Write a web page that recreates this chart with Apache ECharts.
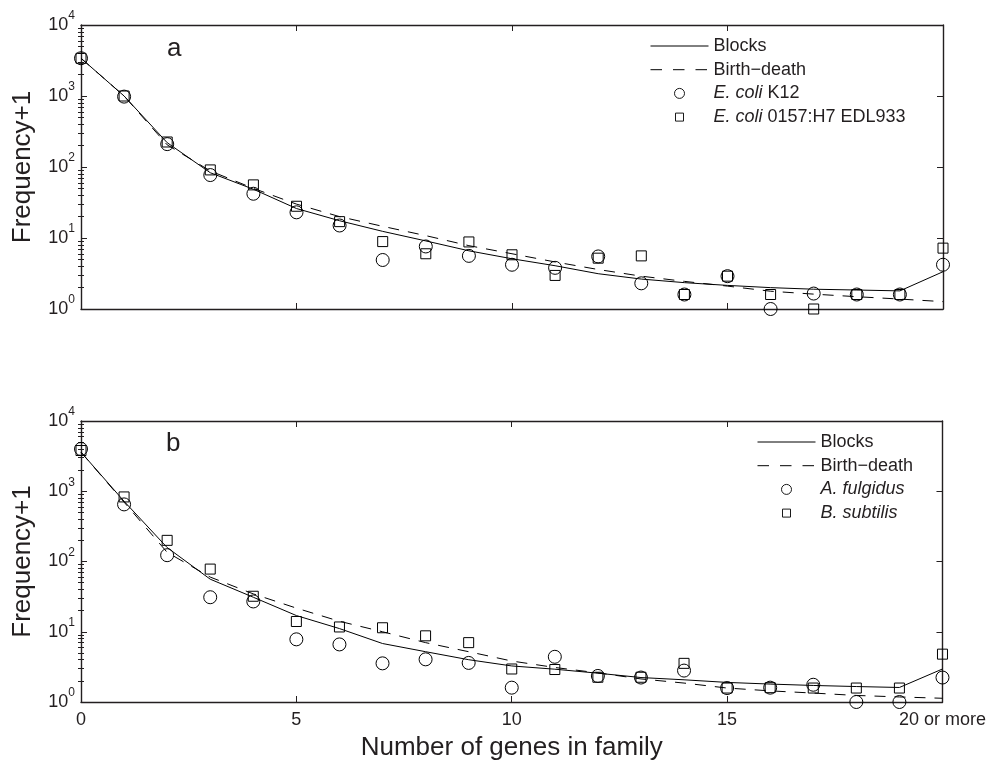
<!DOCTYPE html>
<html>
<head>
<meta charset="utf-8">
<script src="https://cdn.jsdelivr.net/npm/echarts@6/dist/echarts.min.js"></script>
<style>
html,body{margin:0;padding:0;background:#fff;}
#main{width:989px;height:762px;}
</style>
</head>
<body>
<div id="main"></div>
<script>
// ---- data ----
var genes = [0,1,2,3,4,5,6,7,8,9,10,11,12,13,14,15,16,17,18,19,20];
var xTickLabels = {0:'0',5:'5',10:'10',15:'15',20:'20 or more'};

// panel a
var blocksA = [3400,1000,220,83,48.6,26,17.5,12.4,9.1,6.6,5.1,4.07,3.14,2.64,2.35,2.15,2.0,1.9,1.85,1.8,3.35];
var birthA  = [3400,1000,205,88,50,30,20,14.6,10.8,7.8,6.0,4.6,3.6,2.9,2.45,2.1,1.78,1.62,1.49,1.38,1.27];
var ecoliK12 = [3400,980,210,77,42,23,15,4.9,7.6,5.6,4.2,3.8,5.5,2.3,1.6,2.9,1.0,1.65,1.6,1.6,4.2];
var ecoliEDL = [3400,1000,225,91,56,28,17,8.9,6.0,8.8,5.8,2.97,5.2,5.6,1.6,2.9,1.6,1.0,1.6,1.6,7.2];

// panel b
var blocksB = [3600,720,158,56,31,17,11.1,6.8,5.2,4.0,3.26,2.93,2.57,2.23,2.07,1.9,1.8,1.72,1.66,1.61,2.95];
var birthB  = [3600,700,135,60,34.6,21.7,14.1,10,7.0,5.2,3.83,3.1,2.6,2.13,1.86,1.58,1.44,1.34,1.24,1.18,1.13];
var fulgidus = [4000,650,123,31,27,7.8,6.6,3.55,4.05,3.6,1.6,4.4,2.35,2.23,2.8,1.58,1.6,1.76,1.0,1.0,2.23];
var subtilis = [3800,830,200,78,32,14,11.7,11.4,8.75,7.0,2.95,2.9,2.25,2.25,3.55,1.58,1.6,1.58,1.58,1.58,4.8];

var nameBlocks = 'Blocks';
var nameBirth = 'Birth\u2212death';
var nameK12 = 'E. coli K12';
var nameEDL = 'E. coli 0157:H7 EDL933';
var nameFul = 'A. fulgidus';
var nameSub = 'B. subtilis';

// minor tick positions of the log axis, in decades (log10 space)
var minorTicks = [];
[0,1,2,3].forEach(function(d){ for (var k=2;k<=9;k++) minorTicks.push(d + Math.log10(k)); });

function pairs(vals){ return genes.map(function(g,i){ return [g, vals[i]]; }); }

var FONT = "'Liberation Sans', Arial, Helvetica, sans-serif";
var INK = '#231f20';
var SQUARE_ICON = 'path://M0,0 M1,1 L9,1 L9,9 L1,9 Z M10,10';

var grids = [
  {left:81, top:25, width:862, height:284},
  {left:81, top:421, width:862, height:283}
];

function xAxes(gi, showLabels){
  var bottom = {
    type:'value', gridIndex:gi, min:0, max:20, interval:5, position:'bottom',
    axisLine:{show:true, onZero:false, lineStyle:{color:INK, width:1.4}},
    axisTick:{show:true, inside:true, length:6, lineStyle:{color:INK, width:1}},
    splitLine:{show:false},
    axisLabel:{show:showLabels, margin:9, color:INK, fontSize:18, fontFamily:FONT,
      formatter:function(v){ return xTickLabels[v] !== undefined ? xTickLabels[v] : ''; },
      showMinLabel:true, showMaxLabel:true}
  };
  if (showLabels) {
    bottom.name = 'Number of genes in family';
    bottom.nameLocation = 'middle';
    bottom.nameGap = 33;
    bottom.nameTextStyle = {fontSize:26, color:INK, fontFamily:FONT};
  }
  var top = {
    type:'value', gridIndex:gi, min:0, max:20, interval:5, position:'top',
    axisLine:{show:true, onZero:false, lineStyle:{color:INK, width:1.4}},
    axisTick:{show:true, inside:true, length:6, lineStyle:{color:INK, width:1}},
    splitLine:{show:false}, axisLabel:{show:false}
  };
  return [bottom, top];
}

function yAxes(gi){
  var main = {
    type:'log', logBase:10, gridIndex:gi, min:1, max:10000, position:'left',
    name:'Frequency+1', nameLocation:'middle', nameGap:45,
    nameTextStyle:{fontSize:26, color:INK, fontFamily:FONT},
    axisLine:{show:true, onZero:false, lineStyle:{color:INK, width:1.4}},
    axisTick:{show:true, inside:true, length:6, lineStyle:{color:INK, width:1}},
    splitLine:{show:false},
    axisLabel:{show:true, margin:6, color:INK, fontFamily:FONT,
      formatter:function(v){ var e = Math.round(Math.log10(v)); return '{b|10}{s|' + e + '}'; },
      rich:{
        b:{fontSize:18, lineHeight:30, color:INK, fontFamily:FONT},
        s:{fontSize:12, lineHeight:12, verticalAlign:'top', color:INK, fontFamily:FONT}
      }}
  };
  var right = {
    type:'log', logBase:10, gridIndex:gi, min:1, max:10000, position:'right',
    axisLine:{show:true, onZero:false, lineStyle:{color:INK, width:1.4}},
    axisTick:{show:true, inside:true, length:6, lineStyle:{color:INK, width:1}},
    splitLine:{show:false}, axisLabel:{show:false}
  };
  var minorL = {
    type:'value', gridIndex:gi, min:0, max:4, position:'left',
    axisLine:{show:false}, splitLine:{show:false}, axisLabel:{show:false},
    axisTick:{show:true, inside:true, length:3, customValues:minorTicks, lineStyle:{color:INK, width:1}}
  };
  var minorR = {
    type:'value', gridIndex:gi, min:0, max:4, position:'right',
    axisLine:{show:false}, splitLine:{show:false}, axisLabel:{show:false},
    axisTick:{show:true, inside:true, length:3, customValues:minorTicks, lineStyle:{color:INK, width:1}}
  };
  return [main, right, minorL, minorR];
}

function lineSeries(name, vals, xi, yi, dashed){
  return {
    name:name, type:'line', xAxisIndex:xi, yAxisIndex:yi, data:pairs(vals),
    symbol:'none', showSymbol:false, silent:true, z:2,
    lineStyle:{color:'#000', width:1, type: dashed ? [11,9] : 'solid'},
    itemStyle:{color:'rgba(0,0,0,0)', borderWidth:0}
  };
}
function scatterSeries(name, vals, xi, yi, sym, size){
  return {
    name:name, type:'scatter', xAxisIndex:xi, yAxisIndex:yi, data:pairs(vals),
    symbol:sym, symbolSize:size, silent:true, z:3, clip:false,
    itemStyle:{color:'rgba(255,255,255,0)', borderColor:'#000', borderWidth:1, opacity:1}
  };
}

var richLegend = {
  i:{fontStyle:'italic', fontSize:18, color:INK, fontFamily:FONT, lineHeight:18}
};
function legendFormatter(name){
  if (name === nameK12) return '{i|E. coli} K12';
  if (name === nameEDL) return '{i|E. coli} 0157:H7 EDL933';
  if (name === nameFul || name === nameSub) return '{i|' + name + '}';
  return name;
}
function legend(left, top, names){
  return {
    orient:'vertical', left:left, top:top, padding:0, itemWidth:58, itemHeight:10, itemGap:5.7,
    selectedMode:false, data:names, formatter:legendFormatter,
    itemStyle:{borderWidth:0.9},
    lineStyle:{width:1},
    textStyle:{fontSize:18, color:INK, fontFamily:FONT, lineHeight:18, rich:richLegend}
  };
}

var xa = xAxes(0,false), xb = xAxes(1,true);
var ya = yAxes(0), yb = yAxes(1);

var option = {
  animation:false,
  backgroundColor:'#fff',
  textStyle:{fontFamily:FONT},
  grid:grids,
  xAxis:[xa[0], xa[1], xb[0], xb[1]],
  yAxis:[ya[0], ya[1], ya[2], ya[3], yb[0], yb[1], yb[2], yb[3]],
  legend:[
    legend(650, 37, [nameBlocks, {name:nameBirth, lineStyle:{type:[11.5,11]}}, nameK12, {name:nameEDL, icon:SQUARE_ICON}]),
    legend(757, 433, [nameBlocks, {name:nameBirth, lineStyle:{type:[11.5,11]}}, nameFul, {name:nameSub, icon:SQUARE_ICON}])
  ],
  graphic:[
    {type:'text', left:167, top:36, style:{text:'a', fontSize:26, fill:INK, fontFamily:FONT}},
    {type:'text', left:166, top:431, style:{text:'b', fontSize:26, fill:INK, fontFamily:FONT}}
  ],
  series:[
    lineSeries(nameBlocks, blocksA, 0, 0, false),
    lineSeries(nameBirth, birthA, 0, 0, true),
    scatterSeries(nameK12, ecoliK12, 0, 0, 'circle', 13),
    scatterSeries(nameEDL, ecoliEDL, 0, 0, 'rect', 10),
    lineSeries(nameBlocks, blocksB, 2, 4, false),
    lineSeries(nameBirth, birthB, 2, 4, true),
    scatterSeries(nameFul, fulgidus, 2, 4, 'circle', 13),
    scatterSeries(nameSub, subtilis, 2, 4, 'rect', 10)
  ]
};

var chart = echarts.init(document.getElementById('main'), null, {renderer:'canvas'});
chart.setOption(option);
</script>
</body>
</html>
